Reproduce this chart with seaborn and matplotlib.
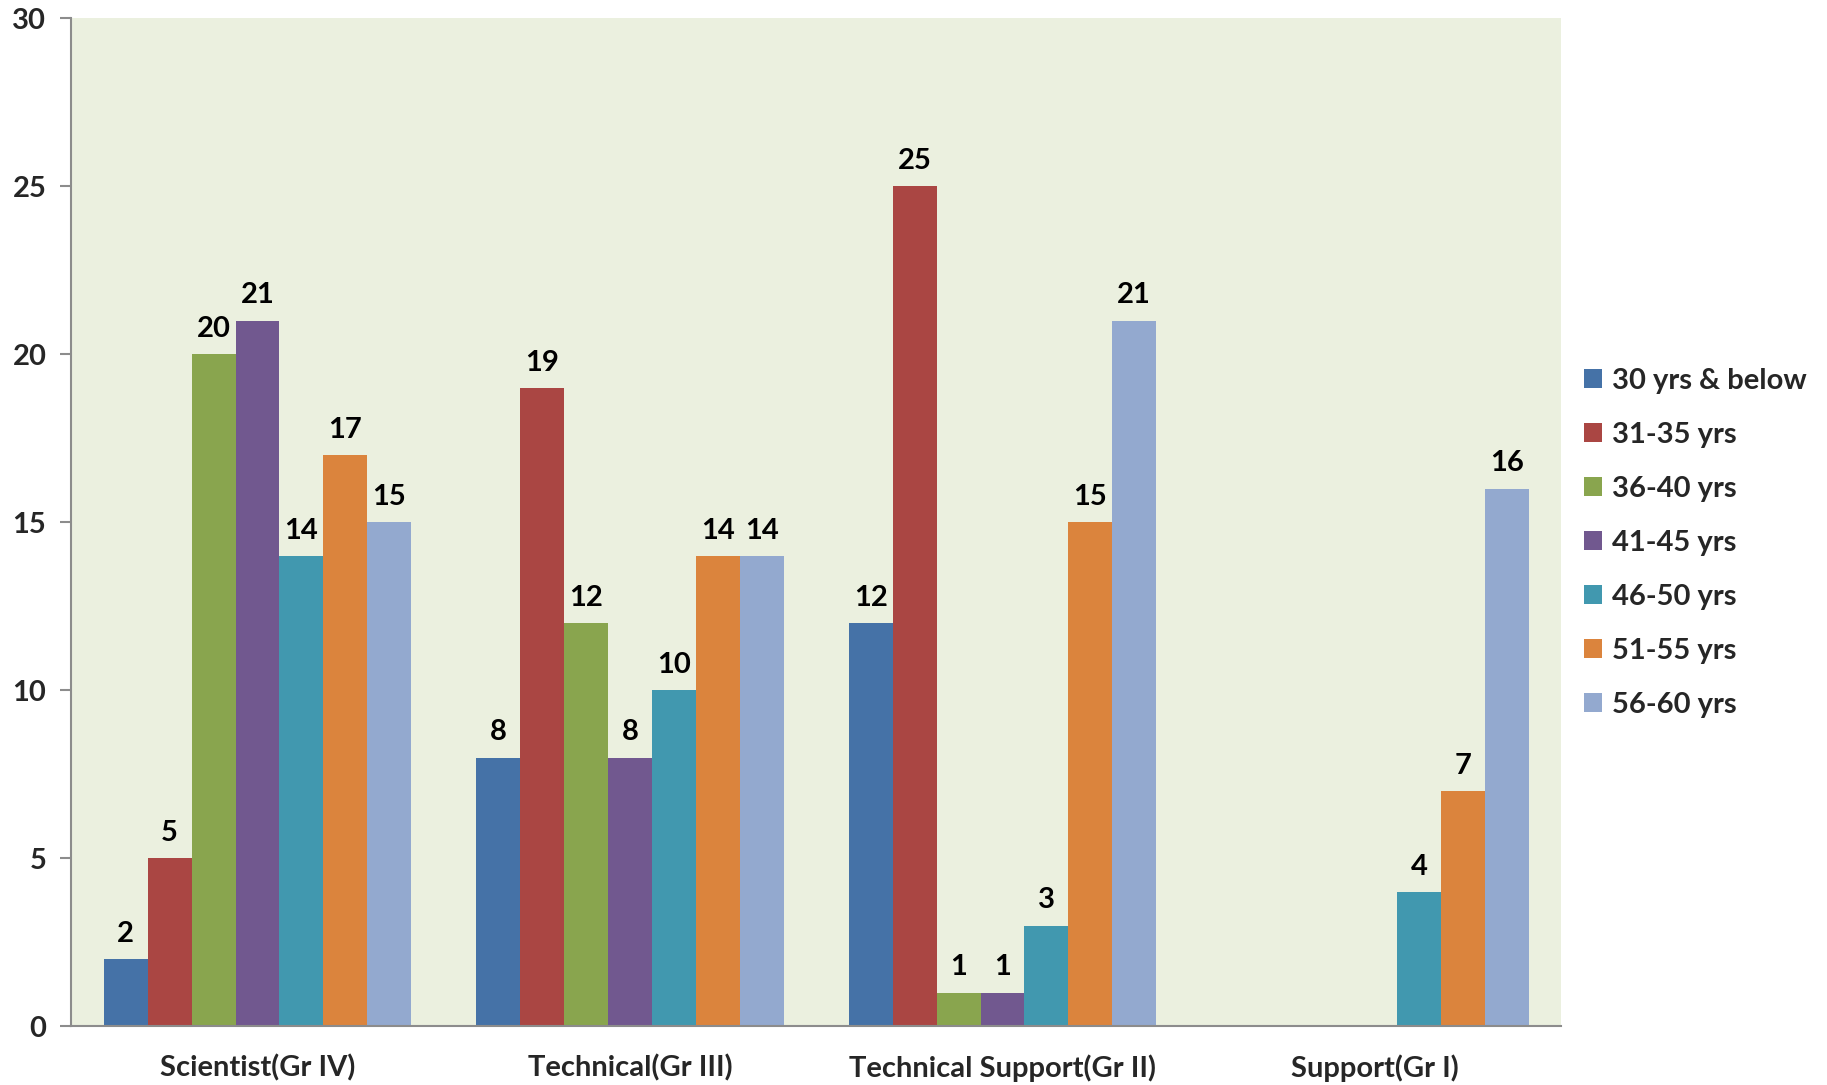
import pandas as pd
import seaborn as sns
import matplotlib.pyplot as plt
from matplotlib.ticker import MultipleLocator

categories = ["Scientist(Gr IV)", "Technical(Gr III)", "Technical Support(Gr II)", "Support(Gr I)"]
age_groups = ["30 yrs & below", "31-35 yrs", "36-40 yrs", "41-45 yrs", "46-50 yrs", "51-55 yrs", "56-60 yrs"]
scientist = [2, 5, 20, 21, 14, 17, 15]
technical = [8, 19, 12, 8, 10, 14, 14]
tech_support = [12, 25, 1, 1, 3, 15, 21]
support = [0, 0, 0, 0, 4, 7, 16]
colors = ["#4572A7", "#AA4643", "#89A54E", "#71588F", "#4198AF", "#DB843D", "#93A9CF"]

rows = []
for cat, vals in zip(categories, [scientist, technical, tech_support, support]):
    for grp, v in zip(age_groups, vals):
        rows.append({"Category": cat, "Age": grp, "Count": v})
df = pd.DataFrame(rows)

sns.set_theme(style="white")
plt.rcParams['font.family'] = ['Lato', 'DejaVu Sans']
plt.rcParams['font.weight'] = 'bold'
fs = 21

fig = plt.figure(figsize=(18.27, 10.85), dpi=100)
ax = fig.add_axes([0.039, 0.054, 0.8155, 0.929])
ax.set_facecolor("#ebf0df")

sns.barplot(data=df, x="Category", y="Count", hue="Age", hue_order=age_groups,
            palette=colors, saturation=1, width=0.825, ax=ax, legend=True, edgecolor="none")

for cont in ax.containers:
    labels = [f"{int(b.get_height())}" if b.get_height() > 0 else "" for b in cont]
    ax.bar_label(cont, labels=labels, padding=9, fontsize=fs, fontweight='bold', color='black')

ax.set_ylim(0, 30)
ax.set_xlim(-0.5, 3.5)
ax.yaxis.set_major_locator(MultipleLocator(5))
ax.set_xlabel("")
ax.set_ylabel("")

for side in ["top", "right"]:
    ax.spines[side].set_visible(False)
for side in ["left", "bottom"]:
    ax.spines[side].set_color("#8c8c8c")
    ax.spines[side].set_linewidth(1.5)

ax.set_xticks([-0.5, 0.5, 1.5, 2.5, 3.5], minor=True)
ax.tick_params(axis='x', which='major', length=0, pad=20, labelsize=fs)
ax.tick_params(axis='x', which='minor', length=8, width=1.5, color="#8c8c8c", direction='out')
ax.tick_params(axis='y', length=8, width=1.5, color="#8c8c8c", direction='out', pad=10, labelsize=fs, left=True)
for lab in ax.get_xticklabels() + ax.get_yticklabels():
    lab.set_fontweight('bold')

handles, labels = ax.get_legend_handles_labels()
ax.get_legend().remove()
fig.legend(handles, labels, loc='center left', bbox_to_anchor=(0.8525, 0.5), frameon=False,
           prop={'size': fs, 'weight': 'bold'}, handlelength=0.62, handleheight=0.62,
           handletextpad=0.35, labelspacing=0.96)

fig.savefig("out.png", dpi=100)
